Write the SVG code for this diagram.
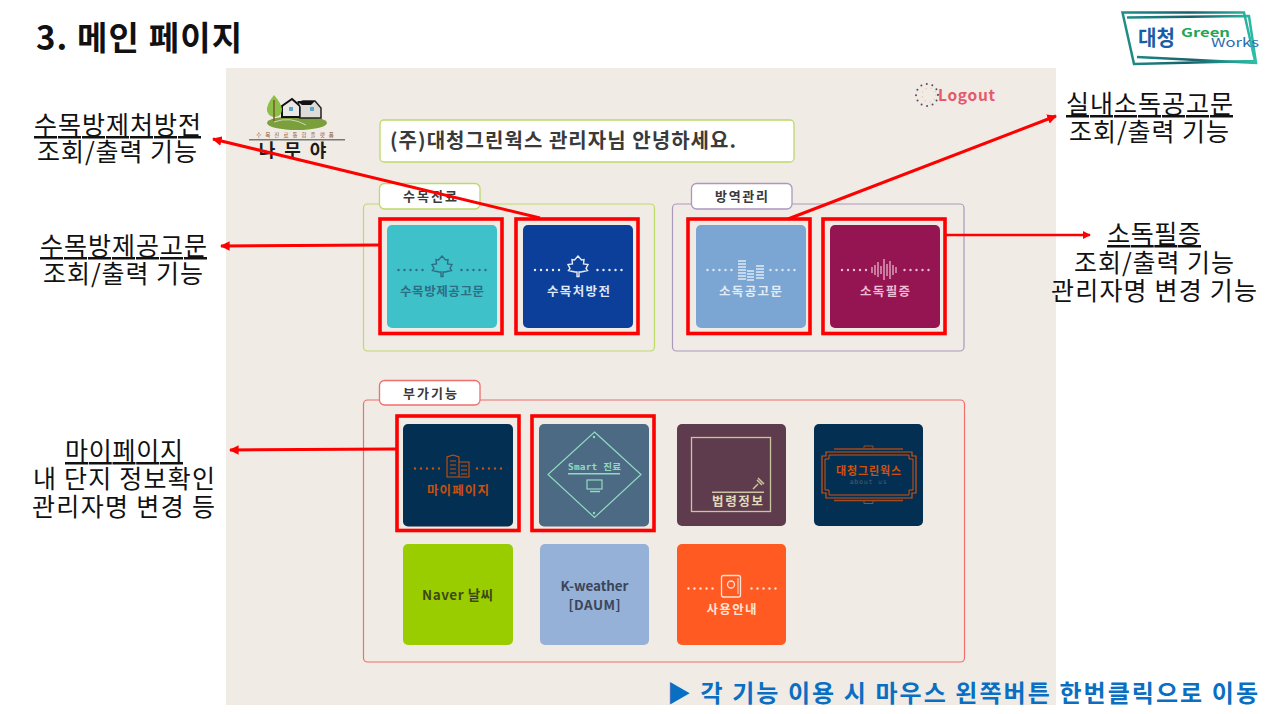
<svg xmlns="http://www.w3.org/2000/svg" width="1273" height="714" viewBox="0 0 1273 714">
<style>
text{font-family:"Noto Sans CJK KR","Noto Sans",sans-serif}
.m{text-anchor:middle}
.note{font-size:25px;fill:#111}
.u{text-decoration:underline}
.tab{fill:#fff;stroke-width:1.3}
.panel{fill:none;stroke-width:1.2}
.tabt{font-size:13px;font-weight:700;fill:#3a3a3a;text-anchor:middle}
.tile{stroke:none}
.hl{fill:none;stroke:#f00;stroke-width:3.6}
.tl{font-size:12.500px;font-weight:700;text-anchor:middle}
.dots{fill:none;stroke-width:2.400;stroke-linecap:round;stroke-dasharray:0 6}
.ic{fill:none;stroke-width:1.3}
.con{fill:none;stroke:#f00;stroke-width:3}
</style>
<defs>
<marker id="ah" viewBox="0 0 10 10" refX="9" refY="5" markerWidth="3.2" markerHeight="3.2" orient="auto-start-reverse"><path d="M0 0L10 5L0 10Z" fill="#f00"/></marker>
<linearGradient id="fr" x1="0" y1="0" x2="1" y2="0"><stop offset="0" stop-color="#1f8f88"/><stop offset=".5" stop-color="#17606a"/><stop offset="1" stop-color="#2cbfa8"/></linearGradient>
<path id="leaf" d="M0-11L3.500-7L6-7.500L5.500-3L10-2.500L8 1.500L9.500 3.500L3 5L1 5L1 9.500H-1L-1 5L-3 5L-9.500 3.500L-8 1.500L-10-2.500L-5.500-3L-6-7.500L-3.500-7Z"/>
</defs>
<rect width="1273" height="714" fill="#fff"/>
<rect id="page" x="226" y="68" width="830" height="637" fill="#f0ebe5"/>
<g id="title"><text x="36" y="50" font-size="33" font-weight="700" fill="#111" textLength="206">3. 메인 페이지</text></g>
<g id="brand">
<path d="M1122.500 12.500L1244 12.500L1255 61L1134 64Z" fill="#fff" stroke="url(#fr)" stroke-width="2.500"/>
<path d="M1127 17.500L1249 16L1256 63L1137 57" fill="none" stroke="url(#fr)" stroke-width="2.500"/>
<text x="1138" y="45" font-size="21" font-weight="700" fill="#1a5da6" textLength="37" lengthAdjust="spacingAndGlyphs">대청</text>
<text x="1181" y="37" font-size="12" font-weight="700" fill="#22a65a" textLength="49" lengthAdjust="spacingAndGlyphs">Green</text>
<text x="1211" y="47" font-size="12" fill="#2a6cb0" textLength="48" lengthAdjust="spacingAndGlyphs">Works</text>
</g>
<g id="app-logo">
<ellipse cx="297" cy="123" rx="30" ry="7" fill="#7b9f3b"/>
<path d="M274 122Q290 116 306 125" fill="none" stroke="#cfd6b8" stroke-width="1"/>
<path d="M282 117V106L292 99L300 106V117Z" fill="#e9e9e6" stroke="#111" stroke-width="2"/>
<path d="M298 103L303 101H315L321 108V118H300V107Z" fill="#dedcd8" stroke="#222" stroke-width="1.500"/>
<path d="M297 101H315L311 105H302Z" fill="#111"/>
<rect x="289" y="107" width="4" height="4" fill="#5ba7c9"/><rect x="310" y="107" width="4" height="4" fill="#5ba7c9"/>
<path d="M274 95Q266 105 267 111Q269 117 275 117Q282 116 282 109Q281 103 274 95Z" fill="#8bbf45"/>
<path d="M274 100V121" stroke="#7a5a32" stroke-width="1.500"/>
<text class="m" x="297" y="136.500" font-size="5.500" fill="#8a5a3a" letter-spacing="4">수목진료통합플랫폼</text>
<rect x="249" y="139" width="96" height="1.500" fill="#777"/>
<text class="m" x="297" y="157" font-size="18" font-weight="700" fill="#1b1b1b" letter-spacing="9">나무야</text>
</g>
<g id="logout">
<circle cx="927" cy="95" r="11" fill="none" stroke="#5c4668" stroke-width="2" stroke-linecap="round" stroke-dasharray="0 5.700"/>
<circle cx="929" cy="95" r="7" fill="none" stroke="#ecc9a0" stroke-width="1.500" stroke-linecap="round" stroke-dasharray="0 5"/>
<text x="938" y="101" font-size="15.500" font-weight="700" fill="#e5596a" textLength="57">Logout</text>
</g>
<g id="welcome">
<rect x="380" y="120" width="414" height="42" rx="4" fill="#fff" stroke="#bcd96a" stroke-width="1.300"/>
<text x="390" y="148" font-size="20" font-weight="700" fill="#3a3a3a" textLength="346">(주)대청그린웍스 관리자님 안녕하세요.</text>
</g>
<g id="group-tree">
<rect class="panel" x="363.500" y="204" width="291" height="147" rx="4" stroke="#bcd96a"/>
<rect class="tab" x="379.500" y="183.500" width="100.500" height="25.500" rx="5" stroke="#bcd96a"/>
<text class="tabt" x="430" y="201" textLength="54">수목진료</text>
</g>
<g id="group-quarantine">
<rect class="panel" x="672.500" y="204" width="291.500" height="147" rx="4" stroke="#ab98bd"/>
<rect class="tab" x="691.500" y="183.500" width="100.500" height="25.500" rx="5" stroke="#ab98bd"/>
<text class="tabt" x="741.500" y="201" textLength="53">방역관리</text>
</g>
<g id="group-extra">
<rect class="panel" x="363.500" y="400" width="601" height="262" rx="4" stroke="#ef6f6c"/>
<rect class="tab" x="379.500" y="380.500" width="100.500" height="24.500" rx="5" stroke="#ef6f6c"/>
<text class="tabt" x="430" y="398" textLength="54">부가기능</text>
</g>
<g id="node-tree-notice">
<rect class="tile" x="387" y="225" width="110" height="103" rx="5" fill="#3fc1c9"/>
<path class="dots" d="M398.500 270H423M461.500 270H486" stroke="#2f6d85"/>
<use href="#leaf" x="442" y="267" fill="none" stroke="#2f6d85" stroke-width="1.400"/>
<text class="tl" x="442" y="296" fill="#2f6d85" textLength="84">수목방제공고문</text>
<rect class="hl" x="380" y="219" width="122" height="114.500"/>
</g>
<g id="node-tree-rx">
<rect class="tile" x="523" y="225" width="110" height="103" rx="5" fill="#0c3f99"/>
<path class="dots" d="M535 270H559.500M597.500 270H622" stroke="#e6ecf7"/>
<use href="#leaf" x="578" y="267" fill="none" stroke="#e6ecf7" stroke-width="1.400"/>
<text class="tl" x="578.500" y="296" fill="#dfe7f5" textLength="63">수목처방전</text>
<rect class="hl" x="516" y="219" width="122" height="114.500"/>
</g>
<g id="node-disinfect-notice">
<rect class="tile" x="696" y="225" width="110" height="103" rx="5" fill="#7ba5d3"/>
<path class="dots" d="M707.500 270H732M770.500 270H795" stroke="#dfe9f5"/>
<path d="M738 261h8M738 264h8M738 267h8M738 270h8M738 273h8M738 276h8M738 279h8M747 271h7M747 274h7M747 277h7M747 280h7M756 266h8M756 269h8M756 272h8M756 275h8M756 278h8" stroke="#dfe9f5" stroke-width="1.700" fill="none"/>
<text class="tl" x="750.500" y="296" fill="#e3ecf6" textLength="63">소독공고문</text>
<rect class="hl" x="688" y="219" width="122" height="114.500"/>
</g>
<g id="node-disinfect-cert">
<rect class="tile" x="830" y="225" width="110" height="103" rx="5" fill="#951552"/>
<path class="dots" d="M842 270H866.500M904.500 270H929" stroke="#efbcd3"/>
<path d="M872 267v6M875 265v10M878 262v15M881 266v8M884 259v21M887 264v12M890 261v18M893 265v10M896 267v6" stroke="#efbcd3" stroke-width="1.200" fill="none"/>
<text class="tl" x="885" y="296" fill="#efbcd3" textLength="50">소독필증</text>
<rect class="hl" x="823" y="219" width="122" height="114.500"/>
</g>
<g id="node-mypage">
<rect class="tile" x="403" y="424" width="110" height="102.500" rx="5" fill="#033052"/>
<path class="dots" d="M415 468.500H439.500M477 468.500H502" stroke="#c8500f"/>
<path d="M447 477V457L453 455L459 457V477ZM459 462H469V477H459ZM450 461h6M450 465h6M450 469h6M450 473h6M461 466h6M461 470h6M461 474h6" fill="none" stroke="#c8500f" stroke-width="1.100"/>
<text class="tl" x="458" y="495" fill="#c8500f" textLength="62">마이페이지</text>
<rect class="hl" x="397" y="416" width="122" height="114.500"/>
</g>
<g id="node-smart">
<rect class="tile" x="539" y="424" width="110" height="102.500" rx="5" fill="#4c6a84"/>
<path d="M594.500 432L641 474.500L594.500 517.500L548 474.500Z" fill="none" stroke="#8fdcbf" stroke-width="1.200"/>
<circle cx="594" cy="437" r="1.200" fill="#8fdcbf"/><circle cx="594" cy="513" r="1.200" fill="#8fdcbf"/>
<text x="568" y="470" font-size="9.500" font-weight="700" fill="#8fdcbf" style="font-family:'DejaVu Sans Mono','Noto Sans CJK KR',monospace" textLength="53">Smart 진료</text>
<rect x="568" y="473" width="52" height="1.500" fill="#8fdcbf"/>
<rect x="587" y="480" width="15" height="9" fill="none" stroke="#8fdcbf" stroke-width="1.200"/>
<path d="M590 491.500H600" stroke="#8fdcbf" stroke-width="1.500"/>
<rect class="hl" x="532" y="416" width="122" height="114.500"/>
</g>
<g id="node-law">
<rect class="tile" x="677" y="424" width="109" height="102" rx="5" fill="#5e3c4d"/>
<rect x="691.500" y="437.500" width="79" height="74" fill="none" stroke="#c9c5a0" stroke-width="1.300"/>
<rect x="712" y="491.500" width="52" height="1.500" fill="#c9c5a0"/>
<path d="M753 489L758 484M757 480L762 485M758 478L764 484" fill="none" stroke="#c9c5a0" stroke-width="1.500"/>
<text x="712" y="506" font-size="12.500" font-weight="700" fill="#e0dcb8" textLength="51">법령정보</text>
</g>
<g id="node-about">
<rect class="tile" x="814" y="424" width="109" height="102" rx="5" fill="#033052"/>
<path d="M834 449H903M834 500.500H903" stroke="#a5481a" stroke-width="1.300"/>
<path d="M864 449v-3h9v3M864 500.500v3h9v-3" fill="none" stroke="#a5481a" stroke-width="1"/>
<path d="M826 452H912L912 456H916V493H912V498H826V493H822V456H826Z" fill="none" stroke="#d2500f" stroke-width="1.200"/>
<path d="M829 455H909V459H913V490H909V495H829V490H825V459H829Z" fill="none" stroke="#d2500f" stroke-width="1"/>
<text class="m" x="868.500" y="475" font-size="11" font-weight="700" fill="#d2500f" textLength="65">대청그린웍스</text>
<text class="m" x="868.500" y="484" font-size="6.500" fill="#4d5d6a" letter-spacing=".8" style="font-family:'DejaVu Sans Mono',monospace">about us</text>
</g>
<g id="node-naver">
<rect class="tile" x="403" y="544" width="110" height="101" rx="5" fill="#9acd00"/>
<text class="m" x="457.500" y="600" font-size="13.500" font-weight="700" fill="#3e4a16" textLength="71">Naver 날씨</text>
</g>
<g id="node-kweather">
<rect class="tile" x="540" y="544" width="109" height="101" rx="5" fill="#95b1d8"/>
<text class="m" x="594.500" y="591" font-size="13.500" font-weight="700" fill="#3c4558" textLength="68">K-weather</text>
<text class="m" x="594.500" y="610" font-size="13.500" font-weight="700" fill="#3c4558" textLength="52">[DAUM]</text>
</g>
<g id="node-guide">
<rect class="tile" x="677" y="544" width="109" height="101" rx="5" fill="#ff5a22"/>
<path class="dots" d="M688.500 588.500H713M751.500 588.500H776" stroke="#ffe2d4"/>
<rect x="721.500" y="575.500" width="19" height="21.500" rx="2" class="ic" stroke="#ffe2d4"/>
<circle cx="731" cy="584.500" r="3.500" class="ic" stroke="#ffe2d4"/><path d="M738 578V594" stroke="#ffe2d4" stroke-width="1"/>
<text class="tl" x="731.500" y="614" fill="#ffe2d4" textLength="50">사용안내</text>
</g>
<g id="connectors">
<path class="con" marker-end="url(#ah)" d="M540 218L213 139"/>
<path class="con" marker-end="url(#ah)" d="M379 245L221 246"/>
<path class="con" marker-end="url(#ah)" d="M788 219L1056 116"/>
<path class="con" marker-end="url(#ah)" d="M945 235H1090" style="stroke-width:2.500"/>
<path class="con" marker-end="url(#ah)" d="M396 449L230 450"/>
</g>
<g id="note-tree-rx">
<text class="note m u" x="117.500" y="134" textLength="167">수목방제처방전</text>
<text class="note m" x="117" y="161" textLength="160">조회/출력 기능</text>
</g>
<g id="note-tree-notice">
<text class="note m u" x="123.500" y="255" textLength="167">수목방제공고문</text>
<text class="note m" x="123" y="283" textLength="160">조회/출력 기능</text>
</g>
<g id="note-mypage">
<text class="note m u" x="124" y="460" textLength="118">마이페이지</text>
<text class="note m" x="124" y="488" textLength="182">내 단지 정보확인</text>
<text class="note m" x="123.500" y="516" textLength="183">관리자명 변경 등</text>
</g>
<g id="note-disinfect-notice">
<text class="note m u" x="1149.500" y="113" textLength="167">실내소독공고문</text>
<text class="note m" x="1149" y="141" textLength="160">조회/출력 기능</text>
</g>
<g id="note-disinfect-cert">
<text class="note m u" x="1154" y="243" textLength="94">소독필증</text>
<text class="note m" x="1154" y="272" textLength="160">조회/출력 기능</text>
<text class="note m" x="1154" y="300" textLength="206">관리자명 변경 기능</text>
</g>
<g id="footer"><text x="667" y="702" font-size="24" font-weight="700" fill="#0a6fc2" textLength="591">▶ 각 기능 이용 시 마우스 왼쪽버튼 한번클릭으로 이동</text></g>
</svg>
